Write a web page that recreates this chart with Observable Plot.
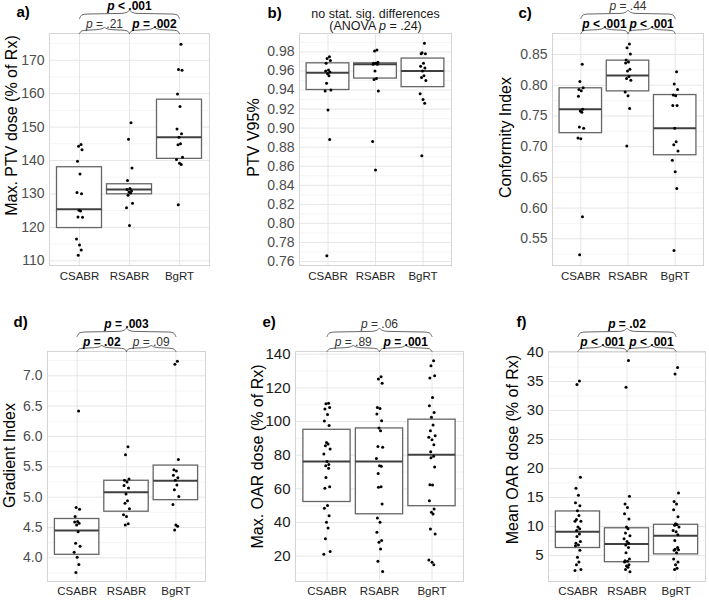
<!DOCTYPE html>
<html><head><meta charset="utf-8">
<script src="https://cdn.jsdelivr.net/npm/d3@7"></script>
<script src="https://cdn.jsdelivr.net/npm/@observablehq/plot@0.6"></script>
<style>
body{margin:0;background:#fff;}
#chart{position:relative;width:709px;height:600px;font-family:"Liberation Sans",Arial,sans-serif;}
#chart svg{position:absolute;overflow:visible;}
</style></head><body><div id="chart"></div>
<script>
const groups = ["CSABR", "RSABR", "BgRT"];

// a) Max. PTV dose
const ptvMaxCSABR = [144.8,144.3,143.2,139.8,136.0,130.4,130.1,125.1,124.9,123.1,123.0,116.5,114.7,113.2,111.7];
const ptvMaxRSABR = [151.3,146.4,137.8,134.0,131.6,131.3,130.9,130.6,130.3,129.6,127.2,125.9,120.6];
const ptvMaxBgRT  = [174.8,167.2,167.0,159.9,156.2,149.4,148.0,147.0,145.0,144.7,141.0,140.3,139.2,138.8,126.8];
const ptvMaxBoxes = [[119.8,125.4,138.0],[129.9,131.3,132.9],[140.5,147.0,158.2]];
const ptvMaxTicks = [110,120,130,140,150,160,170];
const ptvMaxTests = [
  {from:1,to:2,label:"p = .21",bold:false,level:0},
  {from:2,to:3,label:"p = .002",bold:true,level:0},
  {from:1,to:3,label:"p < .001",bold:true,level:1}];

// b) PTV V95%
const v95CSABR = [0.975,0.973,0.971,0.968,0.961,0.960,0.959,0.957,0.955,0.947,0.940,0.939,0.919,0.888,0.766];
const v95RSABR = [0.982,0.981,0.969,0.968,0.968,0.967,0.967,0.960,0.952,0.951,0.939,0.886,0.856];
const v95BgRT  = [0.989,0.979,0.978,0.978,0.968,0.965,0.963,0.960,0.955,0.953,0.950,0.936,0.930,0.926,0.871];
const v95Boxes = [[0.940,0.958,0.968],[0.952,0.967,0.968],[0.943,0.960,0.973]];
const v95Ticks = [0.76,0.78,0.80,0.82,0.84,0.86,0.88,0.90,0.92,0.94,0.96,0.98];
const v95Title = ["no stat. sig. differences", "(ANOVA p = .24)"];

// c) Conformity Index
const ciCSABR = [0.834,0.806,0.796,0.793,0.791,0.782,0.761,0.758,0.756,0.732,0.730,0.714,0.713,0.586,0.524];
const ciRSABR = [0.867,0.861,0.851,0.841,0.838,0.836,0.826,0.823,0.814,0.811,0.808,0.789,0.783,0.762,0.701];
const ciBgRT  = [0.822,0.802,0.793,0.784,0.783,0.767,0.767,0.730,0.708,0.703,0.693,0.678,0.659,0.632,0.531];
const ciBoxes = [[0.722,0.761,0.795],[0.790,0.816,0.840],[0.686,0.730,0.784]];
const ciTicks = [0.55,0.60,0.65,0.70,0.75,0.80,0.85];
const ciTests = [
  {from:1,to:2,label:"p < .001",bold:true,level:0},
  {from:2,to:3,label:"p < .001",bold:true,level:0},
  {from:1,to:3,label:"p = .44",bold:false,level:1}];

// d) Gradient Index
const giCSABR = [6.42,4.83,4.80,4.68,4.60,4.59,4.57,4.54,4.43,4.24,4.19,4.09,4.01,3.89,3.76];
const giRSABR = [5.83,5.70,5.30,5.28,5.25,5.19,5.15,5.05,4.94,4.90,4.81,4.71,4.68,4.56,4.54];
const giBgRT  = [7.24,7.19,5.62,5.45,5.43,5.36,5.32,5.28,5.20,5.12,5.01,4.88,4.54,4.52,4.46];
const giBoxes = [[4.05,4.45,4.64],[4.76,5.08,5.27],[4.95,5.27,5.52]];
const giTicks = [4.0,4.5,5.0,5.5,6.0,6.5,7.0];
const giTests = [
  {from:1,to:2,label:"p = .02",bold:true,level:0},
  {from:2,to:3,label:"p = .09",bold:false,level:0},
  {from:1,to:3,label:"p = .003",bold:true,level:1}];

// e) Max. OAR dose
const oarMaxCSABR = [110.9,110.6,108.4,107.4,104.2,100.3,97.7,87.6,86.6,85.6,83.7,80.7,76.3,74.4,73.8,72.2,66.7,61.3,60.3,50.1,48.5,44.1,40.2,36.8,30.3,22.8,21.2];
const oarMaxRSABR = [126.6,125.2,122.8,108.4,107.8,104.4,100.5,96.1,94.5,85.2,84.7,78.1,73.8,73.4,69.2,61.3,60.9,51.0,42.7,40.2,34.2,29.3,28.3,24.3,17.0,10.9];
const oarMaxBgRT  = [136.1,133.1,127.2,125.8,114.3,109.4,105.4,102.6,97.9,94.5,91.6,90.6,89.2,86.2,82.1,79.3,78.5,73.0,62.5,62.3,53.0,48.1,46.1,45.1,36.2,33.2,17.8,16.4,14.9];
const oarMaxBoxes = [[52.2,76.3,95.1],[44.9,76.3,95.9],[49.7,80.3,101.1]];
const oarMaxTicks = [20,40,60,80,100,120,140];
const oarMaxTests = [
  {from:1,to:2,label:"p = .89",bold:false,level:0},
  {from:2,to:3,label:"p = .001",bold:true,level:0},
  {from:1,to:3,label:"p = .06",bold:false,level:1}];

// f) Mean OAR dose
const oarMeanCSABR = [35.1,34.5,18.5,16.6,15.4,14.1,13.6,12.7,11.9,11.2,10.9,10.9,9.9,9.6,9.3,8.7,8.3,7.4,7.1,6.8,6.7,5.9,4.7,3.9,3.4,2.6,2.4];
const oarMeanRSABR = [38.6,34.0,15.2,13.9,13.3,12.2,11.3,9.9,9.6,8.9,8.4,7.9,7.4,7.1,6.8,6.4,5.5,4.4,4.1,4.0,3.9,3.4,3.2,3.0,2.6,2.2];
const oarMeanBgRT  = [37.4,36.3,15.8,14.3,13.9,12.9,11.7,10.5,10.3,10.2,9.9,9.3,9.1,8.6,7.6,6.4,6.1,6.0,5.9,5.5,4.4,3.9,3.4,2.8,2.6];
const oarMeanBoxes = [[6.3,9.1,12.6],[3.85,7.0,9.7],[5.2,8.4,10.3]];
const oarMeanTicks = [5,10,15,20,25,30,35,40];
const oarMeanTests = [
  {from:1,to:2,label:"p < .001",bold:true,level:0},
  {from:2,to:3,label:"p < .001",bold:true,level:0},
  {from:1,to:3,label:"p = .02",bold:true,level:1}];

// horizontal jitter offsets (category units) for the dots
const JIT = [0.03,-0.02,0.05,-0.04,0.01,-0.05,0.04,-0.01,0.02,-0.03,0.06,-0.06,0,0.035,-0.025];

const FONT = "Liberation Sans, Arial, Helvetica, sans-serif";
const SVGNS = "http://www.w3.org/2000/svg";

function italicP(svg) {
  svg.querySelectorAll("text").forEach(t => {
    if (t.querySelector("tspan")) return;
    const s = t.textContent;
    const m = s.match(/^(.*?(?:^|[\s(]))p(\s.*)$/);
    if (!m) return;
    t.textContent = "";
    if (m[1]) t.appendChild(document.createTextNode(m[1]));
    const ts = document.createElementNS(SVGNS, "tspan");
    ts.setAttribute("font-style", "italic");
    ts.textContent = "p";
    t.appendChild(ts);
    t.appendChild(document.createTextNode(m[2]));
  });
}

function panel(c) {
  const H = c.height - c.mt - c.mb;
  const W = c.width - c.ml - c.mr;
  const upp = (c.domain[1] - c.domain[0]) / H;   // y units per pixel
  const xpp = 3.2 / W;                           // x units per pixel
  const up = px => c.domain[1] + px * upp;       // px above the frame top
  const left = px => 0.4 + px * xpp;             // px right of the frame left
  const pts = c.series.flatMap((vals, g) => vals.map((v, i) => ({x: g + 1 + JIT[i % JIT.length], y: v})));
  const boxData = c.boxes.map(([q1, med, q3], g) => ({g: g + 1, q1, med, q3}));
  const minor = [];
  const step = c.ticks[1] - c.ticks[0];
  for (let k = -1; k < c.ticks.length; k++) {
    const v = c.ticks[0] + (k + 0.5) * step;
    if (v > c.domain[0] && v < c.domain[1]) minor.push(v);
  }
  const braces = [];
  const tests = c.tests || [];
  tests.forEach((t, k) => {
    const base = t.level ? 15 : 0, h = t.level ? 8 : 6;
    const x1 = t.from, x2 = t.to, mid = (x1 + x2) / 2;
    const half = [[x1, 0], [x1 + 0.05, 0.45], [x1 + 0.15, 0.56], [mid - 0.15, 0.64], [mid - 0.05, 0.78]];
    half.forEach(([x, f]) => braces.push({k, x, y: up(base + f * h)}));
    braces.push({k, x: mid, y: up(base + h)});
    half.slice().reverse().forEach(([x, f]) => braces.push({k, x: x1 + x2 - x, y: up(base + f * h)}));
  });
  const testText = tests.map(t => ({x: (t.from + t.to) / 2, y: up(t.level ? 27 : 9.5), label: t.label, bold: t.bold}));
  const marks = [
    Plot.ruleY(minor, {stroke: "#f2f2f2", strokeWidth: 0.8}),
    Plot.ruleY(c.ticks, {stroke: "#e6e6e6", strokeWidth: 1}),
    Plot.ruleX([1, 2, 3], {stroke: "#e6e6e6", strokeWidth: 1}),
    Plot.rect(boxData, {x1: d => d.g - 0.45, x2: d => d.g + 0.45, y1: "q1", y2: "q3", fill: "white", stroke: "#666", strokeWidth: 1.3}),
    Plot.ruleY(boxData, {y: "med", x1: d => d.g - 0.45, x2: d => d.g + 0.45, stroke: "#404040", strokeWidth: 2}),
    Plot.dot(pts, {x: "x", y: "y", r: 1.5, fill: "black"}),
    Plot.frame({stroke: "#d4d4d4"}),
    Plot.axisY(c.ticks, {tickSize: 0, tickPadding: 5, fontSize: c.yTickSize, fill: c.yTickColor, tickFormat: c.fmt, label: null}),
    Plot.axisX([1, 2, 3], {tickSize: 0, tickPadding: c.xPad, fontSize: 11.5, fill: "#262626", tickFormat: i => groups[i - 1], label: null}),
    Plot.text([{x: left(c.ylX), y: up(-c.ylY), t: c.ylabel}], {x: "x", y: "y", text: "t", rotate: -90, fontSize: 16, fill: "black"}),
    Plot.text([{x: left(c.letX), y: up(-c.letY), t: c.letter}], {x: "x", y: "y", text: "t", textAnchor: "start", fontSize: 15, fontWeight: "bold", fill: "black"}),
    Plot.line(braces, {x: "x", y: "y", z: "k", stroke: "#555", strokeWidth: 0.9, curve: "monotone-x"}),
    Plot.text(testText.filter(d => d.bold), {x: "x", y: "y", text: "label", fontSize: 12, fontWeight: "bold", fill: "black"}),
    Plot.text(testText.filter(d => !d.bold), {x: "x", y: "y", text: "label", fontSize: 12, fill: "#333"})
  ];
  if (c.title) {
    marks.push(Plot.text([{x: 2, y: up(20), t: c.title[0]}, {x: 2, y: up(7.5), t: c.title[1]}], {x: "x", y: "y", text: "t", fontSize: 12.5, fill: "#1a1a1a"}));
  }
  const svg = Plot.plot({
    width: c.width, height: c.height,
    marginLeft: c.ml, marginRight: c.mr, marginTop: c.mt, marginBottom: c.mb,
    x: {domain: [0.4, 3.6]},
    y: {domain: c.domain},
    style: {fontFamily: FONT, background: "transparent", overflow: "visible"},
    marks
  });
  italicP(svg);
  svg.style.left = c.left + "px";
  svg.style.top = c.top + "px";
  document.getElementById("chart").appendChild(svg);
}

const f2 = d3.format(".2f"), f1 = d3.format(".1f"), f0 = d3.format("d");

panel({left: 0, top: 0, width: 235, height: 295, ml: 49, mr: 26, mt: 33, mb: 30,
  domain: [108.6, 178.0], ticks: ptvMaxTicks, fmt: f0, series: [ptvMaxCSABR, ptvMaxRSABR, ptvMaxBgRT],
  boxes: ptvMaxBoxes, tests: ptvMaxTests, ylabel: "Max. PTV dose (% of Rx)", ylX: -38, ylY: 92,
  letter: "a)", letX: -33, letY: -21, yTickSize: 14, yTickColor: "#4d4d4d", xPad: 6});

panel({left: 235, top: 0, width: 235, height: 295, ml: 64, mr: 19, mt: 33, mb: 30,
  domain: [0.7558, 0.9993], ticks: v95Ticks, fmt: f2, series: [v95CSABR, v95RSABR, v95BgRT],
  boxes: v95Boxes, tests: [], title: v95Title, ylabel: "PTV V95%", ylX: -46, ylY: 104,
  letter: "b)", letX: -32, letY: -20, yTickSize: 14, yTickColor: "#4d4d4d", xPad: 6});

panel({left: 470, top: 0, width: 239, height: 295, ml: 82, mr: 6, mt: 33, mb: 30,
  domain: [0.5065, 0.8842], ticks: ciTicks, fmt: f2, series: [ciCSABR, ciRSABR, ciBgRT],
  boxes: ciBoxes, tests: ciTests, ylabel: "Conformity Index", ylX: -47, ylY: 104,
  letter: "c)", letX: -34, letY: -20, yTickSize: 14, yTickColor: "#4d4d4d", xPad: 6});

panel({left: 0, top: 295, width: 235, height: 305, ml: 47, mr: 30, mt: 56, mb: 19,
  domain: [3.61, 7.40], ticks: giTicks, fmt: f1, series: [giCSABR, giRSABR, giBgRT],
  boxes: giBoxes, tests: giTests, ylabel: "Gradient Index", ylX: -38, ylY: 104,
  letter: "d)", letX: -34, letY: -29, yTickSize: 14, yTickColor: "#4d4d4d", xPad: 5});

panel({left: 235, top: 295, width: 235, height: 305, ml: 60, mr: 7, mt: 56, mb: 19,
  domain: [4.97, 141.6], ticks: oarMaxTicks, fmt: f0, series: [oarMaxCSABR, oarMaxRSABR, oarMaxBgRT],
  boxes: oarMaxBoxes, tests: oarMaxTests, ylabel: "Max. OAR dose (% of Rx)", ylX: -38, ylY: 105,
  letter: "e)", letX: -33, letY: -29, yTickSize: 15, yTickColor: "#1a1a1a", xPad: 5});

panel({left: 470, top: 295, width: 239, height: 305, ml: 78, mr: 4, mt: 56, mb: 19,
  domain: [0.525, 40.17], ticks: oarMeanTicks, fmt: f0, series: [oarMeanCSABR, oarMeanRSABR, oarMeanBgRT],
  boxes: oarMeanBoxes, tests: oarMeanTests, ylabel: "Mean OAR dose (% of Rx)", ylX: -36, ylY: 98,
  letter: "f)", letX: -32, letY: -29, yTickSize: 15, yTickColor: "#1a1a1a", xPad: 5});
</script>
</body></html>
